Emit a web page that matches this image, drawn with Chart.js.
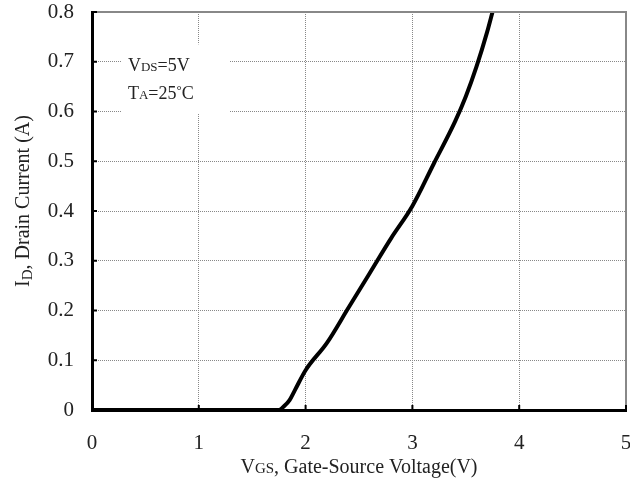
<!DOCTYPE html>
<html lang="en">
<head>
    <meta charset="UTF-8">
    <title>Transfer Characteristics</title>
    <script src="https://cdn.jsdelivr.net/npm/chart.js"></script>
    <style>
        html, body { margin: 0; padding: 0; background: #fff; }
        #wrap { width: 630px; height: 484px; }
    </style>
</head>
<body>
    <div id="wrap"><canvas id="transferChart" width="630" height="484"></canvas></div>
    <script>
        // Gate voltage (V) vs drain current (A), VDS = 5V, TA = 25°C
        const vgs = [0, 1.0, 1.7, 1.75, 1.8, 1.85, 1.9, 2.0, 2.2, 2.4, 2.6, 2.8, 3.0, 3.2, 3.4, 3.5, 3.6, 3.7, 3.75];
        const drainCurrent = [0, 0, 0, 0, 0.008, 0.02, 0.04, 0.08, 0.135, 0.205, 0.275, 0.345, 0.41, 0.495, 0.58, 0.63, 0.69, 0.76, 0.8];
        const xTicks = [0, 1, 2, 3, 4, 5];
        const yTicks = [0, 0.1, 0.2, 0.3, 0.4, 0.5, 0.6, 0.7, 0.8];

        const FONT = '"Liberation Serif", "Times New Roman", serif';

        // draws a run of text pieces with different sizes / baseline shifts
        const drawParts = (ctx, parts, x, y, align) => {
            let total = 0;
            parts.forEach(p => {
                ctx.font = p.size + 'px ' + FONT;
                p.w = ctx.measureText(p.text).width;
                total += p.w;
            });
            let cx = align === 'center' ? x - total / 2 : x;
            ctx.textAlign = 'left';
            ctx.textBaseline = 'alphabetic';
            parts.forEach(p => {
                ctx.font = p.size + 'px ' + FONT;
                ctx.fillText(p.text, cx, y + (p.shift || 0));
                cx += p.w;
            });
        };

        const decorations = {
            id: 'decorations',
            beforeDatasetsDraw(chart) {
                const {ctx, scales: {x, y}} = chart;
                // white note box with the test conditions
                const left = x.getPixelForValue(0.28), right = x.getPixelForValue(1.29);
                const top = y.getPixelForValue(0.735), bottom = y.getPixelForValue(0.597);
                ctx.save();
                ctx.fillStyle = '#fff';
                ctx.fillRect(left, top, right - left, bottom - top);
                ctx.fillStyle = '#222';
                drawParts(ctx, [{text: 'V', size: 18}, {text: 'DS', size: 13}, {text: '=5V', size: 18}], left + 6, top + 27);
                drawParts(ctx, [{text: 'T', size: 18}, {text: 'A', size: 13}, {text: '=25', size: 18}, {text: '°', size: 13, shift: -5}, {text: 'C', size: 18}], left + 6, top + 55);
                ctx.restore();
            },
            afterDraw(chart) {
                const {ctx, chartArea: a, scales: {x, y}} = chart;
                ctx.save();
                // gray frame on top and right
                ctx.strokeStyle = '#888';
                ctx.lineWidth = 2;
                ctx.beginPath();
                ctx.moveTo(a.left, a.top);
                ctx.lineTo(a.right, a.top);
                ctx.lineTo(a.right, a.bottom);
                ctx.stroke();
                // short inward tick marks
                ctx.strokeStyle = '#000';
                ctx.lineWidth = 2;
                ctx.beginPath();
                yTicks.forEach(v => {
                    const py = y.getPixelForValue(v);
                    ctx.moveTo(a.left, py);
                    ctx.lineTo(a.left + 5, py);
                });
                xTicks.forEach(v => {
                    const px = x.getPixelForValue(v);
                    ctx.moveTo(px, a.bottom);
                    ctx.lineTo(px, a.bottom - 5);
                });
                ctx.stroke();
                // axis titles
                ctx.fillStyle = '#222';
                drawParts(ctx, [{text: 'V', size: 20}, {text: 'GS', size: 15}, {text: ', Gate-Source Voltage(V)', size: 20}],
                    (a.left + a.right) / 2, 473, 'center');
                ctx.translate(29, (a.top + a.bottom) / 2 - 10);
                ctx.rotate(-Math.PI / 2);
                drawParts(ctx, [{text: 'I', size: 20}, {text: 'D', size: 15, shift: 3}, {text: ', Drain Current (A)', size: 20}],
                    0, 0, 'center');
                ctx.restore();
            }
        };

        const ctx = document.getElementById('transferChart').getContext('2d');
        new Chart(ctx, {
            type: 'line',
            data: {
                datasets: [{
                    data: vgs.map((v, i) => ({x: v, y: drainCurrent[i]})),
                    borderColor: '#000',
                    borderWidth: 4,
                    pointRadius: 0,
                    cubicInterpolationMode: 'monotone',
                    fill: false
                }]
            },
            options: {
                responsive: false,
                animation: false,
                layout: {padding: {top: 12, right: 4, left: 0, bottom: 0}},
                plugins: {legend: {display: false}, tooltip: {enabled: false}},
                scales: {
                    x: {
                        type: 'linear',
                        min: 0, max: 5,
                        afterBuildTicks: s => { s.ticks = xTicks.map(v => ({value: v})); },
                        afterFit: s => { s.height = 74; s.paddingLeft = 0; s.paddingRight = 0; },
                        grid: {color: '#888', lineWidth: 1, drawTicks: false},
                        border: {display: true, color: '#000', width: 3, dash: [1, 1]},
                        ticks: {color: '#222', padding: 21, font: {family: FONT, size: 21}}
                    },
                    y: {
                        min: 0, max: 0.8,
                        afterBuildTicks: s => { s.ticks = yTicks.map(v => ({value: v})); },
                        afterFit: s => { s.width = 92; s.paddingTop = 0; s.paddingBottom = 0; },
                        grid: {color: '#888', lineWidth: 1, drawTicks: false},
                        border: {display: true, color: '#000', width: 3, dash: [1, 1]},
                        ticks: {
                            color: '#222', padding: 18, font: {family: FONT, size: 21},
                            callback: v => v === 0 ? '0' : v.toFixed(1)
                        }
                    }
                }
            },
            plugins: [decorations]
        });
    </script>
</body>
</html>
